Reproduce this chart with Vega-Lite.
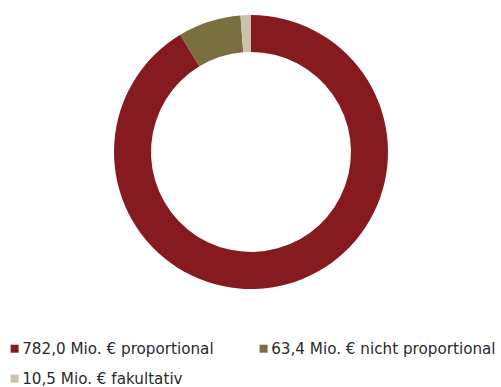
{
  "$schema": "https://vega.github.io/schema/vega-lite/v6.json",
  "width": 502,
  "height": 304,
  "autosize": "none",
  "padding": {"left": 0, "top": 0, "right": 0, "bottom": 83},
  "background": "white",
  "config": {"view": {"stroke": null}},
  "data": {
    "values": [
      {"label": "782,0 Mio. € proportional", "wert": 782.0, "ord": 1},
      {"label": "63,4 Mio. € nicht proportional", "wert": 63.4, "ord": 2},
      {"label": "10,5 Mio. € fakultativ", "wert": 10.5, "ord": 3}
    ]
  },
  "mark": {"type": "arc", "outerRadius": 137, "innerRadius": 100},
  "encoding": {
    "theta": {"field": "wert", "type": "quantitative", "stack": true},
    "order": {"field": "ord", "type": "quantitative"},
    "color": {
      "field": "label",
      "type": "nominal",
      "sort": null,
      "scale": {
        "domain": ["782,0 Mio. € proportional", "63,4 Mio. € nicht proportional", "10,5 Mio. € fakultativ"],
        "range": ["#851a1f", "#7b6f3f", "#c9c3ac"]
      },
      "legend": {
        "title": null,
        "orient": "none",
        "legendX": 7,
        "legendY": 341,
        "padding": 0,
        "direction": "horizontal",
        "columns": 2,
        "columnPadding": 42,
        "rowPadding": 14,
        "symbolType": "square",
        "symbolSize": 64,
        "symbolStrokeWidth": 0,
        "symbolOffset": 0,
        "labelOffset": 0,
        "labelFont": "DejaVu Sans",
        "labelFontSize": 15.2,
        "labelColor": "#2a2a2a",
        "labelLimit": 400
      }
    }
  }
}
